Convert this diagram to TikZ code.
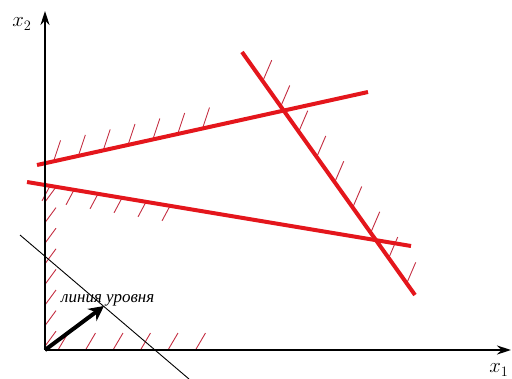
\documentclass[tikz,border=0pt]{standalone}
\usepackage{fontspec}
\setmainfont{Liberation Serif}
\usepackage{tikz}
\usetikzlibrary{arrows.meta,calc}

\definecolor{constrred}{RGB}{228,22,28}
\definecolor{hatchred}{RGB}{196,46,66}

\tikzset{
  axis/.style={line width=1.8pt, -{Stealth[length=14pt,width=9pt]}},
  constr/.style={line width=4pt, draw=constrred},
  hatch/.style={line width=0.9pt, draw=hatchred},
  level/.style={line width=0.9pt, draw=black},
  grad/.style={line width=4pt, -{Stealth[length=15pt,width=15pt]}},
}

\begin{document}
\begin{tikzpicture}[x=1pt,y=-1pt]
\useasboundingbox (0,0) rectangle (512,378);

% Оси
\coordinate (O) at (45,350);
\coordinate (xend) at (511,350);
\coordinate (yend) at (45,11);

% Ограничения (концы прямых)
\coordinate (l1a) at (37,165);
\coordinate (l1b) at (368,92);
\coordinate (l2a) at (27,182);
\coordinate (l2b) at (411,246);
\coordinate (l3a) at (242,52);
\coordinate (l3b) at (415,295);

% Линия уровня и градиент
\coordinate (lva) at (20,235);
\coordinate (lvb) at (189,379);
\coordinate (gtip) at (104,306);

% Штриховка
\foreach \t in {0.05,0.125,...,0.51}
  \draw[hatch] ($(l1a)!\t!(l1b)$) -- ++(7,-21);
\foreach \t in {0.06,0.1225,...,0.38}
  \draw[hatch] ($(l2a)!\t!(l2b)$) -- ++(-8,15);
\foreach \t in {0.12,0.224,...,0.96}
  \draw[hatch] ($(l3a)!\t!(l3b)$) -- ++(9,-21);
\foreach \k in {0,...,7}
  \draw[hatch] ($(O)+(0,-148+20.6*\k)$) -- ++(11,-15);
\foreach \k in {0,...,5}
  \draw[hatch] ($(O)+(13+27.5*\k,0)$) -- ++(10,-17);

% Прямые ограничений
\draw[constr] (l1a) -- (l1b);
\draw[constr] (l2a) -- (l2b);
\draw[constr] (l3a) -- (l3b);

\draw[axis] (O) -- (xend);
\draw[axis] (O) -- (yend);
\node[font=\fontsize{20}{20}\selectfont] (x2lab) at (22,24) {$x_2$};
\node[font=\fontsize{20}{20}\selectfont] (x1lab) at (499,370) {$x_1$};

\draw[level] (lva) -- (lvb);
\draw[grad] (O) -- (gtip);
\node[font=\fontsize{17}{17}\selectfont\itshape, anchor=base west, inner sep=0pt] (levlab) at (61,302) {линия уровня};
\end{tikzpicture}
\end{document}
